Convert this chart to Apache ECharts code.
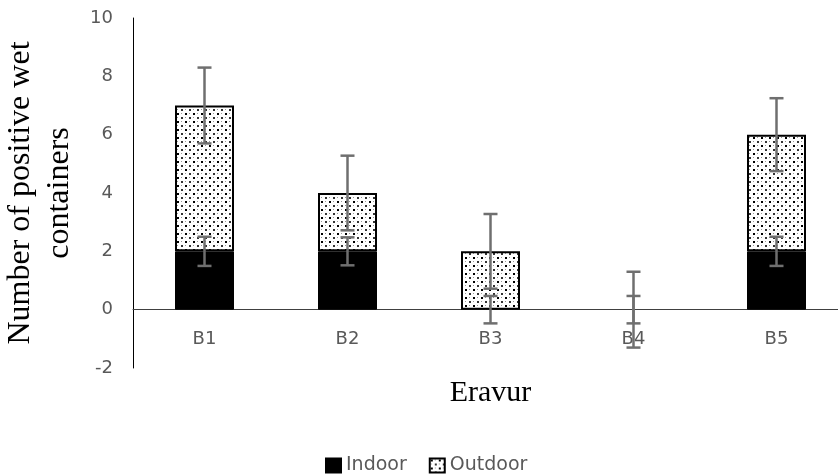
<!DOCTYPE html>
<html>
<head>
<meta charset="utf-8">
<script src="https://cdn.jsdelivr.net/npm/echarts@6/dist/echarts.min.js"></script>
<style>html,body{margin:0;padding:0;background:#fff;}#c{width:838px;height:474px;}</style>
</head>
<body>
<div id="c"></div>
<script>
const categories = ['B1', 'B2', 'B3', 'B4', 'B5'];
const indoor = [2, 2, 0, 0, 2];
const outdoor = [5, 2, 2, 0, 4];
const indoorErr = [0.5, 0.48, 0.47, 0.47, 0.5];
const outdoorErr = [1.3, 1.28, 1.28, 1.3, 1.25];
const yTicks = [-2, 0, 2, 4, 6, 8, 10];

// dotted pattern
const pat = document.createElement('canvas');
pat.width = 8; pat.height = 8;
const pc = pat.getContext('2d');
pc.fillStyle = '#fff'; pc.fillRect(0, 0, 8, 8);
pc.fillStyle = '#000'; pc.fillRect(1, 1, 2, 2);
pc.fillStyle = '#333'; pc.fillRect(5, 5, 2, 2);
pc.fillStyle = '#999'; pc.fillRect(5, 1, 1, 1); pc.fillRect(1, 5, 1, 1);

const indoorErrData = indoor.map((v, i) => [i, v - indoorErr[i], v + indoorErr[i]]);
const outdoorErrData = outdoor.map((v, i) => {
  const t = v + indoor[i];
  return [i, t - outdoorErr[i], t + outdoorErr[i]];
});

function barItems(arr, style) {
  return arr.map(v => ({ value: v, itemStyle: v === 0 ? { borderWidth: 0, opacity: 0 } : style }));
}

function renderErr(params, api) {
  const x = api.value(0), lo = api.value(1), hi = api.value(2);
  const p1 = api.coord([x, hi]), p2 = api.coord([x, lo]);
  const hw = 7;
  const st = { stroke: '#6f6f6f', lineWidth: 2.5 };
  return {
    type: 'group', children: [
      { type: 'line', shape: { x1: p1[0], y1: p1[1], x2: p2[0], y2: p2[1] }, style: st },
      { type: 'line', shape: { x1: p1[0] - hw, y1: p1[1], x2: p1[0] + hw, y2: p1[1] }, style: st },
      { type: 'line', shape: { x1: p2[0] - hw, y1: p2[1], x2: p2[0] + hw, y2: p2[1] }, style: st }
    ]
  };
}

const inStyle = { color: '#000', borderColor: '#000', borderWidth: 1 };
const outStyle = { color: { image: pat, repeat: 'repeat' }, borderColor: '#000', borderWidth: 2 };

const chart = echarts.init(document.getElementById('c'));
chart.setOption({
  animation: false,
  grid: { left: 133, top: 18, bottom: 106, right: -10, outerBoundsMode: 'none', containLabel: false },
  legend: {
    data: ['Indoor', 'Outdoor'],
    top: 451, left: 320,
    itemWidth: 15, itemHeight: 14, itemGap: 22,
    icon: 'rect',
    textStyle: { fontFamily: 'DejaVu Sans', fontSize: 19, color: '#595959' }
  },
  xAxis: {
    type: 'category',
    data: categories,
    name: 'Eravur',
    nameLocation: 'middle',
    nameGap: 10,
    nameTextStyle: { fontFamily: 'Liberation Serif', fontSize: 30, color: '#000', verticalAlign: 'top' },
    axisLine: { onZero: true, lineStyle: { color: '#404040', width: 1 } },
    axisTick: { show: false },
    axisLabel: { margin: -38, fontFamily: 'DejaVu Sans', fontSize: 18, color: '#595959' }
  },
  yAxis: {
    type: 'value',
    min: yTicks[0], max: yTicks[yTicks.length - 1], interval: 2,
    name: 'Number of positive wet\ncontainers',
    nameLocation: 'middle',
    nameRotate: 90,
    nameGap: 46,
    nameTextStyle: { fontFamily: 'Liberation Serif', fontSize: 32, color: '#000', lineHeight: 39 },
    axisLine: { show: true, lineStyle: { color: '#000', width: 1 } },
    axisTick: { show: false },
    splitLine: { show: false },
    axisLabel: { margin: 20, fontFamily: 'DejaVu Sans', fontSize: 18, color: '#595959' }
  },
  series: [
    {
      name: 'Indoor', type: 'bar', stack: 'a', data: barItems(indoor, inStyle), barWidth: 59,
      itemStyle: inStyle
    },
    {
      name: 'Outdoor', type: 'bar', stack: 'a', data: barItems(outdoor, outStyle), barWidth: 59,
      itemStyle: outStyle
    },
    { name: 'errIn', type: 'custom', renderItem: renderErr, data: indoorErrData, z: 10 },
    { name: 'errOut', type: 'custom', renderItem: renderErr, data: outdoorErrData, z: 10 }
  ]
});
</script>
</body>
</html>
